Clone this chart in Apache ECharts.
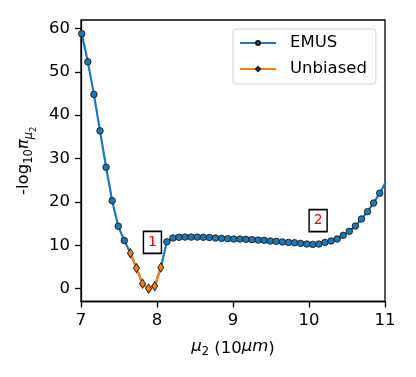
<!DOCTYPE html>
<html>
<head>
<meta charset="utf-8">
<script src="https://cdn.jsdelivr.net/npm/echarts@6/dist/echarts.min.js"></script>
<style>
  html, body { margin: 0; padding: 0; background: #fff; }
  #chart { width: 416px; height: 377px; }
</style>
</head>
<body>
<div id="chart"></div>
<script>
// mu_2 positions (10 um)
const muValues = [7.01, 7.09, 7.17, 7.25, 7.33, 7.41, 7.49, 7.57, 7.65, 7.73,
  7.81, 7.89, 7.97, 8.05, 8.13, 8.21, 8.29, 8.37, 8.45, 8.53,
  8.61, 8.69, 8.77, 8.85, 8.93, 9.01, 9.09, 9.17, 9.25, 9.33,
  9.41, 9.49, 9.57, 9.65, 9.73, 9.81, 9.89, 9.97, 10.05, 10.13,
  10.21, 10.29, 10.37, 10.45, 10.53, 10.61, 10.69, 10.77, 10.85, 10.93, 11.01];
// -log10 pi, EMUS estimate
const emusValues = [58.8, 52.3, 44.8, 36.4, 28.0, 20.3, 14.4, 11.1, 8.2, 4.75,
  1.15, 0.0, 0.6, 4.9, 10.8, 11.7, 11.85, 11.9, 11.9, 11.9,
  11.85, 11.8, 11.7, 11.6, 11.53, 11.45, 11.45, 11.38, 11.3, 11.22,
  11.15, 11.0, 10.92, 10.78, 10.68, 10.6, 10.45, 10.3, 10.22, 10.3,
  10.68, 11.0, 11.45, 12.3, 13.22, 14.45, 16.07, 17.76, 19.76, 22.0, 24.6];
// unbiased reference
const unbiasedMu = [7.65, 7.73, 7.81, 7.89, 7.97, 8.05];
const unbiasedValues = [8.2, 4.75, 1.15, 0.0, 0.6, 4.9];
// boxed labels
const noteLabels = ['1', '2'];
const noteCoords = [[7.94, 10.7], [10.12, 15.7]];

const xTicks = [7, 8, 9, 10, 11];
const yTicks = [0, 10, 20, 30, 40, 50, 60];

const FONT = 'DejaVu Sans';
const BLUE = '#1f77b4';
const ORANGE = '#ff7f0e';

const chart = echarts.init(document.getElementById('chart'), null, { renderer: 'canvas' });

const emusData = muValues.map((m, i) => {
  const item = { value: [m, emusValues[i]] };
  if (unbiasedMu.indexOf(m) >= 0) item.symbol = 'none';
  return item;
});
const unbiasedData = unbiasedMu.map((m, i) => [m, unbiasedValues[i]]);

const option = {
  animation: false,
  textStyle: { fontFamily: FONT },
  grid: {
    left: 81, right: 31, top: 20, bottom: 75.5,
    show: true, borderColor: '#000', borderWidth: 1.3
  },
  legend: {
    left: 233, top: 29,
    orient: 'vertical',
    padding: [5, 9, 6, 6],
    itemWidth: 36, itemHeight: 5, itemGap: 8,
    borderColor: '#d0d0d0', borderWidth: 1, borderRadius: 3,
    backgroundColor: 'rgba(255,255,255,0.8)',
    textStyle: { fontFamily: FONT, fontSize: 16.5, color: '#000', lineHeight: 18, padding: [0, 0, 0, 9] },
    data: ['EMUS', 'Unbiased']
  },
  xAxis: {
    type: 'value', min: 7, max: 11, interval: 1,
    name: '{it|μ}{s|2} (10{it|μm})',
    nameLocation: 'middle', nameGap: 37,
    nameTextStyle: {
      rich: {
        it: { fontFamily: FONT, fontSize: 16.5, fontStyle: 'italic', color: '#000', lineHeight: 20, verticalAlign: 'top' },
        s: { fontFamily: FONT, fontSize: 11.5, color: '#000', lineHeight: 14, padding: [8, 0, 0, 0], verticalAlign: 'top' }
      },
      fontFamily: FONT, fontSize: 16.5, color: '#000', lineHeight: 20, verticalAlign: 'top'
    },
    axisLine: { show: true, onZero: false, lineStyle: { color: '#000', width: 1.3 } },
    axisTick: { show: true, length: 6, lineStyle: { color: '#000', width: 1.3 }, customValues: xTicks },
    axisLabel: { fontFamily: FONT, fontSize: 16.5, color: '#000', margin: 11, customValues: xTicks },
    splitLine: { show: false }
  },
  yAxis: {
    type: 'value', min: -2.95, max: 61.95,
    name: '{n|-log}{s|10}{it|π}{si|μ}{ss|2}',
    nameLocation: 'middle', nameRotate: 90, nameGap: 39,
    nameTextStyle: {
      rich: {
        n: { fontFamily: FONT, fontSize: 16.5, color: '#000', lineHeight: 20, verticalAlign: 'top' },
        it: { fontFamily: FONT, fontSize: 16.5, fontStyle: 'italic', color: '#000', lineHeight: 20, verticalAlign: 'top' },
        s: { fontFamily: FONT, fontSize: 11.5, color: '#000', lineHeight: 14, padding: [8, 0, 0, 0], verticalAlign: 'top' },
        si: { fontFamily: FONT, fontSize: 11.5, fontStyle: 'italic', color: '#000', lineHeight: 14, padding: [8, 0, 0, 0], verticalAlign: 'top' },
        ss: { fontFamily: FONT, fontSize: 8.5, color: '#000', lineHeight: 10, padding: [14, 0, 0, 0], verticalAlign: 'top' }
      },
      fontFamily: FONT, fontSize: 16.5, color: '#000'
    },
    axisLine: { show: true, onZero: false, lineStyle: { color: '#000', width: 1.3 } },
    axisTick: { show: true, length: 6, lineStyle: { color: '#000', width: 1.3 }, customValues: yTicks },
    axisLabel: { fontFamily: FONT, fontSize: 16.5, color: '#000', margin: 11, customValues: yTicks },
    splitLine: { show: false }
  },
  series: [
    {
      name: 'EMUS',
      type: 'line',
      data: emusData,
      clip: true,
      symbol: 'circle',
      symbolSize: 6.5,
      lineStyle: { color: BLUE, width: 2.2 },
      itemStyle: { color: BLUE, borderColor: '#1a1a1a', borderWidth: 0.9 },
      z: 2,
      markPoint: {
        symbol: 'rect',
        symbolSize: [18, 22],
        itemStyle: { color: '#fff', borderColor: '#000', borderWidth: 1.6 },
        label: { show: true, position: 'inside', color: '#ff0000', fontFamily: FONT, fontSize: 14 },
        data: noteLabels.map((t, i) => ({ coord: noteCoords[i], value: t }))
      }
    },
    {
      name: 'Unbiased',
      type: 'line',
      data: unbiasedData,
      clip: true,
      symbol: 'diamond',
      symbolSize: [6, 9],
      lineStyle: { color: ORANGE, width: 2.2 },
      itemStyle: { color: ORANGE, borderColor: '#1a1a1a', borderWidth: 0.9 },
      z: 3
    }
  ]
};

chart.setOption(option);
</script>
</body>
</html>
